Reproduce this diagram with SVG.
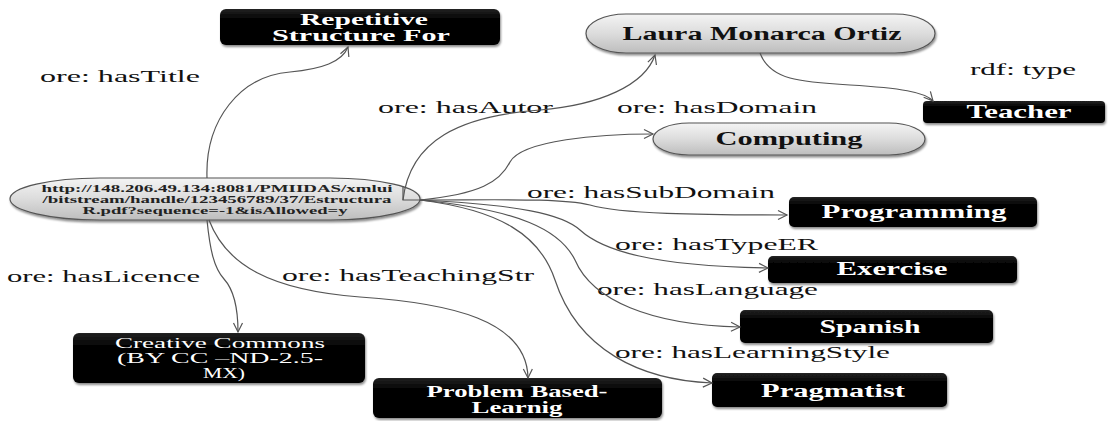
<svg xmlns="http://www.w3.org/2000/svg" width="1110" height="421" viewBox="0 0 1110 421">
<defs>
<linearGradient id="pill" x1="0" y1="0" x2="0" y2="1">
<stop offset="0" stop-color="#f4f4f4"/><stop offset="0.5" stop-color="#dcdcdc"/><stop offset="1" stop-color="#bdbdbd"/>
</linearGradient>
<linearGradient id="blk" x1="0" y1="0" x2="0" y2="1">
<stop offset="0" stop-color="#222"/><stop offset="0.3" stop-color="#000"/><stop offset="1" stop-color="#000"/>
</linearGradient>
<filter id="sh" x="-10%" y="-20%" width="120%" height="150%">
<feDropShadow dx="1" dy="2" stdDeviation="1.2" flood-color="#000" flood-opacity="0.45"/>
</filter>
<marker id="ar" markerUnits="userSpaceOnUse" markerWidth="12" markerHeight="12" refX="10" refY="6" orient="auto">
<path d="M1,1.5 L10,6 L1,10.5" fill="none" stroke="#555" stroke-width="1.2"/>
</marker>
<style>
text{font-family:'Liberation Serif','DejaVu Serif',serif}
.box{fill:url(#blk);filter:url(#sh)}
.pill{fill:url(#pill);stroke:#555;stroke-width:1.2;filter:url(#sh)}
.wt{font-weight:bold;font-size:18px;fill:#fff;text-anchor:middle}
.wt2{font-weight:bold;font-size:16px;fill:#fff;text-anchor:middle}
.wn{font-size:15px;fill:#fff;text-anchor:middle}
.dt{font-weight:bold;font-size:18px;fill:#111;text-anchor:middle}
.ct{font-weight:bold;font-size:10.5px;fill:#222;text-anchor:middle}
.lb{font-size:17px;fill:#111}
.e{fill:none;stroke:#555;stroke-width:1.2;marker-end:url(#ar)}
.e0{fill:none;stroke:#555;stroke-width:1.2}
</style>
</defs>
<rect width="1110" height="421" fill="#fff"/>

<g id="labels">
<text class="lb" x="40" y="82" textLength="160" lengthAdjust="spacingAndGlyphs">ore:  hasTitle</text>
<text class="lb" x="7" y="282" textLength="193" lengthAdjust="spacingAndGlyphs">ore: hasLicence</text>
<text class="lb" x="282" y="281" textLength="252" lengthAdjust="spacingAndGlyphs">ore:  hasTeachingStr</text>
<text class="lb" x="378" y="113" textLength="175" lengthAdjust="spacingAndGlyphs">ore:  hasAutor</text>
<text class="lb" x="617" y="113" textLength="200" lengthAdjust="spacingAndGlyphs">ore:  hasDomain</text>
<text class="lb" x="527" y="198" textLength="248" lengthAdjust="spacingAndGlyphs">ore:  hasSubDomain</text>
<text class="lb" x="615" y="250" textLength="203" lengthAdjust="spacingAndGlyphs">ore:  hasTypeER</text>
<text class="lb" x="597" y="295" textLength="221" lengthAdjust="spacingAndGlyphs">ore:  hasLanguage</text>
<text class="lb" x="615" y="358" textLength="275" lengthAdjust="spacingAndGlyphs">ore:  hasLearningStyle</text>
<text class="lb" x="970" y="75" textLength="106" lengthAdjust="spacingAndGlyphs">rdf: type</text>
</g>

<g id="n-resource">
<rect class="pill" x="10" y="178" width="410" height="42" rx="90" ry="21"/>
<text class="ct" x="217" y="192" textLength="351" lengthAdjust="spacingAndGlyphs">http://148.206.49.134:8081/PMIIDAS/xmlui</text>
<text class="ct" x="217" y="203" textLength="349" lengthAdjust="spacingAndGlyphs">/bitstream/handle/123456789/37/Estructura</text>
<text class="ct" x="215" y="214" textLength="265" lengthAdjust="spacingAndGlyphs">R.pdf?sequence=-1&amp;isAllowed=y</text>
</g>

<g id="n-title">
<rect class="box" x="220" y="9" width="280" height="36" rx="6"/>
<text class="wt2" x="364" y="25" textLength="128" lengthAdjust="spacingAndGlyphs">Repetitive</text>
<text class="wt2" x="361" y="41" textLength="178" lengthAdjust="spacingAndGlyphs">Structure For</text>
</g>

<g id="n-laura">
<rect class="pill" x="586" y="14" width="349" height="39" rx="40" ry="19.5"/>
<text class="dt" x="762" y="40" textLength="279" lengthAdjust="spacingAndGlyphs">Laura Monarca Ortiz</text>
</g>

<g id="n-teacher">
<rect class="box" x="923" y="101" width="182" height="22" rx="4"/>
<text class="wt" x="1019" y="118" textLength="105" lengthAdjust="spacingAndGlyphs">Teacher</text>
</g>

<g id="n-computing">
<rect class="pill" x="653" y="123" width="272" height="32" rx="36" ry="16"/>
<text class="dt" x="789" y="145" textLength="147" lengthAdjust="spacingAndGlyphs">Computing</text>
</g>

<g id="n-programming">
<rect class="box" x="789" y="197" width="248" height="30" rx="5"/>
<text class="wt" x="914" y="218" textLength="185" lengthAdjust="spacingAndGlyphs">Programming</text>
</g>

<g id="n-exercise">
<rect class="box" x="768" y="256" width="249" height="27" rx="5"/>
<text class="wt" x="892" y="275" textLength="111" lengthAdjust="spacingAndGlyphs">Exercise</text>
</g>

<g id="n-spanish">
<rect class="box" x="740" y="310" width="253" height="33" rx="5"/>
<text class="wt" x="870" y="333" textLength="101" lengthAdjust="spacingAndGlyphs">Spanish</text>
</g>

<g id="n-pragmatist">
<rect class="box" x="712" y="373" width="235" height="34" rx="5"/>
<text class="wt" x="833" y="397" textLength="144" lengthAdjust="spacingAndGlyphs">Pragmatist</text>
</g>

<g id="n-problem">
<rect class="box" x="373" y="378" width="289" height="40" rx="6"/>
<text class="wt2" x="517" y="397" textLength="181" lengthAdjust="spacingAndGlyphs">Problem Based-</text>
<text class="wt2" x="517" y="413" textLength="91" lengthAdjust="spacingAndGlyphs">Learnig</text>
</g>

<g id="n-licence">
<rect class="box" x="73" y="333" width="292" height="50" rx="6"/>
<text class="wn" x="220" y="348" textLength="210" lengthAdjust="spacingAndGlyphs">Creative Commons</text>
<text class="wn" x="220" y="363" textLength="206" lengthAdjust="spacingAndGlyphs">(BY  CC –ND-2.5-</text>
<text class="wn" x="224" y="378" textLength="42" lengthAdjust="spacingAndGlyphs">MX)</text>
</g>

<g id="connectors">
<path class="e" d="M207,178 C205,120 240,76 290,72 C322,69 342,62 348,47"/>
<path class="e" d="M207,220 C210,250 214,268 224,279 C234,290 238,310 238,332"/>
<path class="e" d="M209,220 C226,265 270,290 360,297 C450,303 527,320 528,378"/>
<path class="e0" d="M403,186 L403,200 L420,200"/>
<path class="e" d="M403,200 C410,140 460,116 540,110 C600,105 645,85 655,55"/>
<path class="e" d="M420,200 C480,194 500,182 510,162 C522,140 600,134 653,134"/>
<path class="e" d="M420,200 C500,200 560,198 590,205 C620,214 700,215 787,215"/>
<path class="e" d="M420,200 C520,205 562,214 580,230 C602,250 650,266 768,268"/>
<path class="e" d="M420,200 C520,210 560,230 575,260 C592,300 650,325 740,327"/>
<path class="e" d="M420,200 C500,210 540,235 555,280 C578,350 640,380 712,383"/>
<path class="e" d="M760,53 C770,80 800,82 850,85 C900,88 925,92 933,101"/>
</g>
</svg>
